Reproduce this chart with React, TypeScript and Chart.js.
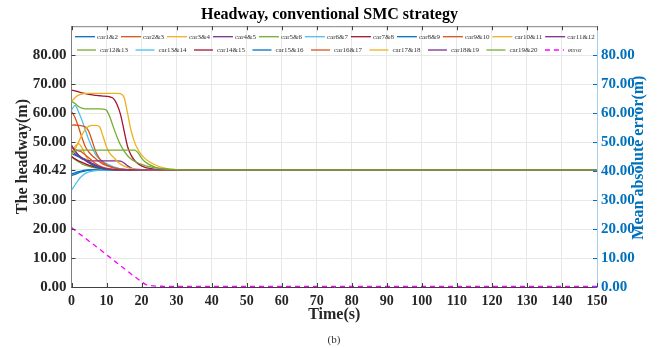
import React, { useEffect, useRef } from "react";
import { Chart, registerables } from "chart.js";

Chart.register(...registerables);

const SERIF = "'Liberation Serif', 'DejaVu Serif', serif";

// Time samples (s)
const TIME = [0, 1, 2, 3, 4, 5, 6, 7, 8, 9, 10, 11, 12, 13, 14, 15, 16, 17, 18, 19, 20, 21, 22, 24, 26, 28, 32, 150];

const LABELS = [
  "car1&2", "car2&3", "car3&4", "car4&5", "car5&6", "car6&7", "car7&8", "car8&9", "car9&10", "car10&11",
  "car11&12", "car12&13", "car13&14", "car14&15", "car15&16", "car16&17", "car17&18", "car18&19", "car19&20", "error",
];

const PALETTE = ["#0072BD", "#D95319", "#EDB120", "#7E2F8E", "#77AC30", "#4DBEEE", "#A2142F"];

const car1_2 = [38.5, 38.9, 39.4, 39.8, 40.1, 40.3, 40.4, 40.42, 40.42, 40.42, 40.42, 40.42, 40.42, 40.42, 40.42, 40.42, 40.42, 40.42, 40.42, 40.42, 40.42, 40.42, 40.42, 40.42, 40.42, 40.42, 40.42, 40.42];
const car2_3 = [60.5, 58.5, 55.2, 51.5, 48.3, 46.5, 45.2, 44.2, 43.2, 42.4, 41.9, 41.5, 41.1, 40.9, 40.7, 40.6, 40.5, 40.45, 40.42, 40.42, 40.42, 40.42, 40.42, 40.42, 40.42, 40.42, 40.42, 40.42];
const car3_4 = [46.0, 48.5, 49.5, 48.0, 45.5, 43.5, 42.5, 41.8, 41.3, 41.0, 40.8, 40.6, 40.5, 40.45, 40.42, 40.42, 40.42, 40.42, 40.42, 40.42, 40.42, 40.42, 40.42, 40.42, 40.42, 40.42, 40.42, 40.42];
const car4_5 = [48.5, 47.0, 45.5, 44.5, 43.6, 42.8, 42.2, 41.7, 41.3, 41.0, 40.8, 40.6, 40.5, 40.45, 40.42, 40.42, 40.42, 40.42, 40.42, 40.42, 40.42, 40.42, 40.42, 40.42, 40.42, 40.42, 40.42, 40.42];
const car5_6 = [45.0, 44.0, 43.2, 42.5, 42.0, 41.6, 41.3, 41.0, 40.8, 40.7, 40.6, 40.5, 40.45, 40.42, 40.42, 40.42, 40.42, 40.42, 40.42, 40.42, 40.42, 40.42, 40.42, 40.42, 40.42, 40.42, 40.42, 40.42];
const car6_7 = [61.0, 62.7, 60.5, 57.5, 54.0, 50.6, 47.8, 45.5, 44.2, 43.3, 42.6, 42.0, 41.5, 41.1, 40.8, 40.6, 40.5, 40.45, 40.42, 40.42, 40.42, 40.42, 40.42, 40.42, 40.42, 40.42, 40.42, 40.42];
const car7_8 = [67.9, 67.7, 67.3, 67.0, 66.7, 66.5, 66.3, 66.1, 66.0, 65.9, 65.8, 65.6, 65.0, 63.0, 59.5, 54.0, 48.5, 45.5, 43.7, 42.5, 41.8, 41.3, 41.0, 40.6, 40.5, 40.45, 40.42, 40.42];
const car8_9 = [39.0, 39.4, 39.8, 40.1, 40.3, 40.4, 40.42, 40.42, 40.42, 40.42, 40.42, 40.42, 40.42, 40.42, 40.42, 40.42, 40.42, 40.42, 40.42, 40.42, 40.42, 40.42, 40.42, 40.42, 40.42, 40.42, 40.42, 40.42];
const car9_10 = [55.8, 55.9, 55.8, 55.6, 55.2, 53.5, 50.0, 46.5, 44.3, 43.0, 42.2, 41.6, 41.2, 40.9, 40.7, 40.6, 40.5, 40.45, 40.42, 40.42, 40.42, 40.42, 40.42, 40.42, 40.42, 40.42, 40.42, 40.42];
const car10_11 = [64.0, 65.3, 66.2, 66.6, 66.8, 66.8, 66.8, 66.8, 66.8, 66.8, 66.8, 66.8, 66.8, 66.8, 66.7, 65.5, 60.0, 54.0, 50.0, 47.3, 45.6, 44.3, 43.4, 42.1, 41.2, 40.7, 40.45, 40.42];
const car11_12 = [47.0, 46.0, 45.0, 44.2, 43.8, 43.6, 43.5, 43.5, 43.5, 43.5, 43.5, 43.5, 43.5, 43.5, 43.4, 42.8, 41.8, 41.1, 40.7, 40.55, 40.48, 40.45, 40.42, 40.42, 40.42, 40.42, 40.42, 40.42];
const car12_13 = [64.0, 63.3, 62.3, 61.7, 61.5, 61.5, 61.5, 61.5, 61.5, 61.4, 61.0, 58.5, 55.0, 51.8, 49.0, 47.0, 45.3, 44.2, 43.4, 42.8, 42.3, 41.9, 41.6, 41.1, 40.8, 40.6, 40.45, 40.42];
const car13_14 = [33.4, 35.2, 37.0, 38.3, 39.2, 39.7, 40.0, 40.2, 40.3, 40.38, 40.42, 40.42, 40.42, 40.42, 40.42, 40.42, 40.42, 40.42, 40.42, 40.42, 40.42, 40.42, 40.42, 40.42, 40.42, 40.42, 40.42, 40.42];
const car14_15 = [45.0, 44.2, 43.5, 43.0, 42.5, 42.0, 41.6, 41.3, 41.0, 40.8, 40.7, 40.6, 40.5, 40.45, 40.42, 40.42, 40.42, 40.42, 40.42, 40.42, 40.42, 40.42, 40.42, 40.42, 40.42, 40.42, 40.42, 40.42];
const car15_16 = [46.0, 45.5, 45.0, 44.5, 44.0, 43.0, 42.0, 41.5, 41.1, 40.8, 40.6, 40.5, 40.45, 40.42, 40.42, 40.42, 40.42, 40.42, 40.42, 40.42, 40.42, 40.42, 40.42, 40.42, 40.42, 40.42, 40.42, 40.42];
const car16_17 = [48.0, 47.5, 47.0, 46.5, 45.5, 44.5, 43.5, 42.5, 41.8, 41.3, 41.0, 40.8, 40.6, 40.5, 40.45, 40.42, 40.42, 40.42, 40.42, 40.42, 40.42, 40.42, 40.42, 40.42, 40.42, 40.42, 40.42, 40.42];
const car17_18 = [45.4, 47.5, 50.0, 52.5, 54.5, 55.5, 55.8, 55.8, 55.3, 52.0, 48.3, 46.0, 44.8, 43.4, 42.4, 41.7, 41.2, 40.9, 40.7, 40.55, 40.48, 40.45, 40.42, 40.42, 40.42, 40.42, 40.42, 40.42];
const car18_19 = [49.0, 47.0, 45.5, 44.5, 43.8, 43.2, 42.6, 42.0, 41.5, 41.1, 40.8, 40.6, 40.5, 40.45, 40.42, 40.42, 40.42, 40.42, 40.42, 40.42, 40.42, 40.42, 40.42, 40.42, 40.42, 40.42, 40.42, 40.42];
const car19_20 = [46.0, 47.0, 47.2, 47.2, 47.2, 47.2, 47.2, 47.2, 47.2, 47.2, 47.2, 47.2, 47.2, 47.2, 47.2, 47.2, 47.2, 47.2, 47.2, 46.3, 44.5, 43.2, 42.4, 41.3, 40.8, 40.6, 40.45, 40.42];
const errorMAE = [20.5, 19.6, 18.6, 17.7, 16.8, 15.8, 14.9, 14.0, 13.1, 12.1, 11.1, 10.2, 9.2, 8.3, 7.3, 6.4, 5.5, 4.5, 3.6, 2.7, 1.8, 1.0, 0.6, 0.3, 0.25, 0.2, 0.2, 0.2];

const HEADWAYS = [
  car1_2, car2_3, car3_4, car4_5, car5_6, car6_7, car7_8, car8_9, car9_10, car10_11,
  car11_12, car12_13, car13_14, car14_15, car15_16, car16_17, car17_18, car18_19, car19_20,
];

const LEFT_TICKS = [0, 10, 20, 30, 40.42, 50, 60, 70, 80];
const RIGHT_TICKS = [0, 10, 20, 30, 40, 50, 60, 70, 80];

const decorPlugin = {
  id: "decor",
  afterDatasetsDraw(chart: any) {
    const ctx = chart.ctx as CanvasRenderingContext2D;
    const area = chart.chartArea;
    const { x, y, y1 } = chart.scales;
    ctx.save();
    // top border
    ctx.strokeStyle = "#808080";
    ctx.lineWidth = 1;
    ctx.beginPath();
    ctx.moveTo(area.left, area.top + 0.5);
    ctx.lineTo(area.right, area.top + 0.5);
    ctx.stroke();
    // inward tick marks
    ctx.strokeStyle = "#404040";
    ctx.beginPath();
    y.ticks.forEach((t: any) => {
      const py = Math.round(y.getPixelForValue(t.value)) + 0.5;
      ctx.moveTo(area.left, py);
      ctx.lineTo(area.left + 4, py);
    });
    x.ticks.forEach((t: any) => {
      const px = Math.round(x.getPixelForValue(t.value)) + 0.5;
      ctx.moveTo(px, area.bottom);
      ctx.lineTo(px, area.bottom - 4);
      ctx.moveTo(px, area.top);
      ctx.lineTo(px, area.top + 4);
    });
    ctx.stroke();
    ctx.strokeStyle = "#0072BD";
    ctx.beginPath();
    y1.ticks.forEach((t: any) => {
      const py = Math.round(y1.getPixelForValue(t.value)) + 0.5;
      ctx.moveTo(area.right, py);
      ctx.lineTo(area.right - 4, py);
    });
    ctx.stroke();

    // legend inside the axes
    const rows = [
      { start: 75, y: 36.7, from: 0, to: 10, line: 20, gap: 2, pad: 3 },
      { start: 77, y: 50, from: 11, to: 19, line: 19, gap: 4, pad: 7.5 },
    ];
    ctx.font = `7px ${SERIF}`;
    ctx.textBaseline = "middle";
    ctx.textAlign = "left";
    rows.forEach((r) => {
      let cx = r.start;
      for (let i = r.from; i <= r.to; i++) {
        const ds = chart.data.datasets[i];
        ctx.strokeStyle = ds.borderColor;
        ctx.lineWidth = 1.3;
        ctx.setLineDash(ds.borderDash || []);
        ctx.beginPath();
        ctx.moveTo(cx, r.y);
        ctx.lineTo(cx + r.line, r.y);
        ctx.stroke();
        ctx.setLineDash([]);
        ctx.fillStyle = "#333333";
        ctx.fillText(ds.label, cx + r.line + r.gap, r.y);
        cx += r.line + r.gap + ctx.measureText(ds.label).width + r.pad;
      }
    });

    // right axis title (reads bottom to top)
    ctx.save();
    ctx.translate(639, (area.top + area.bottom) / 2 + 1);
    ctx.rotate(-Math.PI / 2);
    ctx.font = `bold 16px ${SERIF}`;
    ctx.fillStyle = "#0072BD";
    ctx.textAlign = "center";
    ctx.textBaseline = "middle";
    ctx.fillText("Mean absolute error(m)", 0, 0);
    ctx.restore();

    // caption
    ctx.font = `11px ${SERIF}`;
    ctx.fillStyle = "#333333";
    ctx.textAlign = "center";
    ctx.textBaseline = "middle";
    ctx.fillText("(b)", 334, 340);
    ctx.restore();
  },
};

export default function App() {
  const ref = useRef<HTMLCanvasElement>(null);

  useEffect(() => {
    if (!ref.current) return;
    const datasets: any[] = HEADWAYS.map((vals, i) => ({
      label: LABELS[i],
      data: TIME.map((t, k) => ({ x: t, y: vals[k] })),
      borderColor: PALETTE[i % PALETTE.length],
      backgroundColor: PALETTE[i % PALETTE.length],
      borderWidth: 1.3,
      pointRadius: 0,
      cubicInterpolationMode: "monotone",
      yAxisID: "y",
      order: 20 - i,
    }));
    datasets.push({
      label: LABELS[19],
      data: TIME.map((t, k) => ({ x: t, y: errorMAE[k] })),
      borderColor: "#FF00FF",
      backgroundColor: "#FF00FF",
      borderWidth: 1.3,
      borderDash: [5, 4],
      pointRadius: 0,
      cubicInterpolationMode: "monotone",
      yAxisID: "y1",
      order: 0,
    });

    const chart = new Chart(ref.current, {
      type: "line",
      data: { datasets },
      plugins: [decorPlugin],
      options: {
        animation: false,
        responsive: false,
        layout: { padding: { left: 0, right: 0, top: 0, bottom: 23.4 } },
        plugins: {
          legend: { display: false },
          tooltip: { enabled: false },
          title: {
            display: true,
            text: "Headway, conventional SMC strategy",
            color: "#000000",
            font: { family: SERIF, size: 16, weight: "bold" },
            padding: { top: 5, bottom: 2 },
          },
        },
        scales: {
          x: {
            type: "linear",
            min: 0,
            max: 150,
            ticks: {
              stepSize: 10,
              color: "#262626",
              font: { family: SERIF, size: 14, weight: "bold" },
              padding: 6,
              maxRotation: 0,
            },
            grid: { color: "#e8e8e8", drawTicks: false },
            border: { color: "#404040", width: 1 },
            title: {
              display: true,
              text: "Time(s)",
              color: "#262626",
              font: { family: SERIF, size: 16, weight: "bold" },
              padding: 0,
            },
            afterFit: (s: any) => {
              s.height = 37.6;
            },
          },
          y: {
            type: "linear",
            position: "left",
            min: 0,
            max: 90,
            afterBuildTicks: (s: any) => {
              s.ticks = LEFT_TICKS.map((v) => ({ value: v }));
            },
            ticks: {
              color: "#262626",
              font: { family: SERIF, size: 15, weight: "bold" },
              padding: 5,
              callback: (v: any) => Number(v).toFixed(2),
            },
            grid: { color: "#e8e8e8", drawTicks: false },
            border: { color: "#808080", width: 1 },
            title: {
              display: true,
              text: "The headway(m)",
              color: "#262626",
              font: { family: SERIF, size: 16, weight: "bold" },
              padding: { top: 13, bottom: 0 },
            },
            afterFit: (s: any) => {
              s.width = 71.5;
            },
          },
          y1: {
            type: "linear",
            position: "right",
            min: 0,
            max: 90,
            afterBuildTicks: (s: any) => {
              s.ticks = RIGHT_TICKS.map((v) => ({ value: v }));
            },
            ticks: {
              color: "#0072BD",
              font: { family: SERIF, size: 15, weight: "bold" },
              padding: 4,
              callback: (v: any) => Number(v).toFixed(2),
            },
            grid: { drawOnChartArea: false, drawTicks: false },
            border: { color: "#a9cce8", width: 1 },
            afterFit: (s: any) => {
              s.width = 62;
            },
          },
        },
      },
    });
    return () => chart.destroy();
  }, []);

  return (
    <div style={{ position: "absolute", left: 0, top: 0, width: 659, height: 348, background: "#ffffff" }}>
      <canvas ref={ref} width={659} height={348} style={{ display: "block" }} />
    </div>
  );
}
